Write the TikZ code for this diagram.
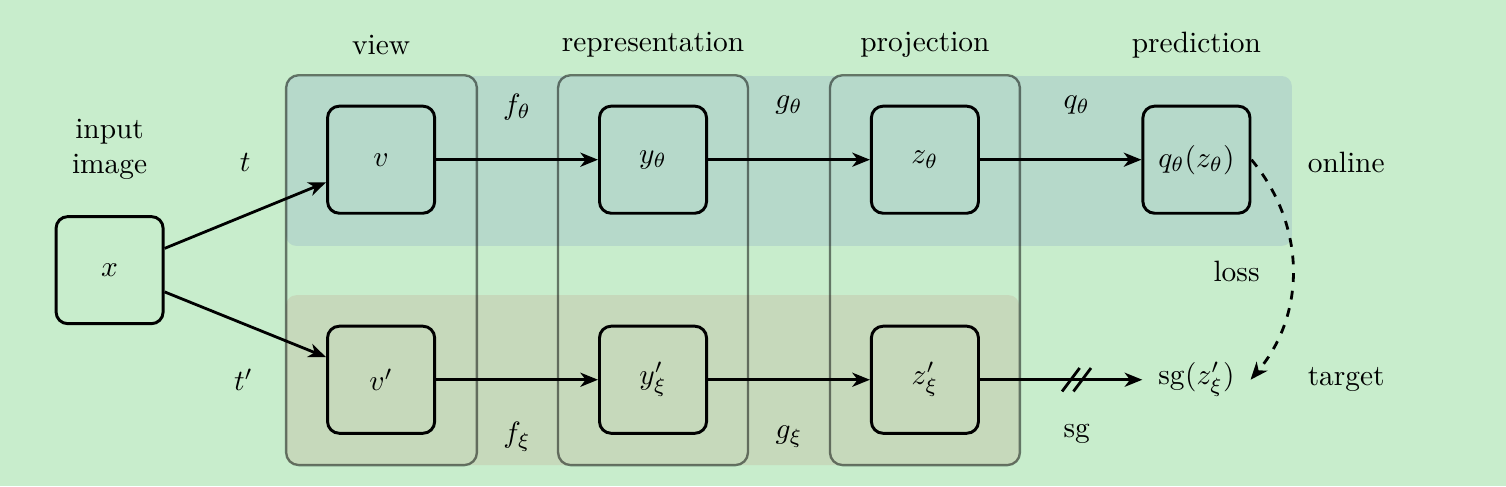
\documentclass[tikz,border=0pt]{standalone}
\usepackage{xcolor}
\usepackage{tikz}
\usepackage{amsmath}
\usetikzlibrary{arrows.meta,calc}

\definecolor{bgcolor}{RGB}{200,237,204}
\definecolor{onlinecolor}{RGB}{182,217,202}
\definecolor{targetcolor}{RGB}{198,217,187}

\begin{document}
\begin{tikzpicture}
    [block/.style={draw,line width=1pt,rounded corners=0.14cm,minimum width=1.28cm,minimum height=1.28cm},
    ghost/.style={minimum width=1.28cm,minimum height=1.28cm},
    arrow/.style={-{Stealth[length=6pt,width=4.8pt,inset=1.8pt]},line width=0.95pt},
    column/.style={draw=black,draw opacity=0.5,thick,rounded corners=0.15cm},
    band/.style={rounded corners=0.12cm}]

%background and page size
\fill[bgcolor] (0,0) rectangle (18,5.809);
\useasboundingbox (0,0) rectangle (18,5.809);

%online and target bands
\fill[band,onlinecolor] (3.42,2.87) rectangle (15.44,4.90);
\fill[band,targetcolor] (3.42,0.25) rectangle (12.18,2.28);

%columns
\draw[column] (3.42,0.25) rectangle (5.70,4.91);
\draw[column] (6.67,0.25) rectangle (8.94,4.91);
\draw[column] (9.92,0.25) rectangle (12.19,4.91);

%column titles
\node (viewlabel) at (4.555,5.27) {view};
\node (replabel) at (7.805,5.27) {representation};
\node (projlabel) at (11.055,5.27) {projection};
\node (predlabel) at (14.30,5.27) {prediction};

%blocks
\node[block] (x) at (1.31,2.58) {$x$};
\node[block] (v) at (4.555,3.90) {$v$};
\node[block] (vt) at (4.555,1.27) {$v'$};
\node[block] (y) at (7.805,3.90) {$y_\theta$};
\node[block] (yt) at (7.805,1.27) {$y'_\xi$};
\node[block] (z) at (11.055,3.90) {$z_\theta$};
\node[block] (zt) at (11.055,1.27) {$z'_\xi$};
\node[block] (q) at (14.30,3.90) {$q_\theta(z_\theta)$};
\node[ghost] (sg) at (14.30,1.27) {$\mathrm{sg}(z'_\xi)$};

%labels
\node[align=center] (input) at (1.31,4.02) {input\\image};
\node (tlabel) at (2.93,3.87) {$t$};
\node (ttlabel) at (2.91,1.27) {$t'$};
\node (flabel) at (6.18,4.53) {$f_\theta$};
\node (ftlabel) at (6.18,0.59) {$f_\xi$};
\node (glabel) at (9.43,4.55) {$g_\theta$};
\node (gtlabel) at (9.43,0.59) {$g_\xi$};
\node (qlabel) at (12.87,4.55) {$q_\theta$};
\node (sglabel) at (12.87,0.62) {sg};
\node (online) at (16.09,3.87) {online};
\node (target) at (16.09,1.27) {target};
\node (loss) at (14.78,2.56) {loss};

%connectors
\draw[arrow] ([yshift=0.26cm]x.east) -- ([yshift=-0.27cm]v.west);
\draw[arrow] ([yshift=-0.26cm]x.east) -- ([yshift=0.27cm]vt.west);
\draw[arrow] (v) -- (y);
\draw[arrow] (y) -- (z);
\draw[arrow] (z) -- (q);
\draw[arrow] (vt) -- (yt);
\draw[arrow] (yt) -- (zt);
\draw[arrow] (zt) -- (sg);
\draw[arrow,dashed] (q.east) to[bend left=40] (sg.east);

%stop gradient marks
\path (zt.east) -- (sg.west) coordinate[pos=0.56] (cut1) coordinate[pos=0.63] (cut2);
\draw[line width=0.95pt] ([shift={(-0.105,-0.14)}]cut1) -- ([shift={(0.105,0.14)}]cut1);
\draw[line width=0.95pt] ([shift={(-0.105,-0.14)}]cut2) -- ([shift={(0.105,0.14)}]cut2);

\end{tikzpicture}
\end{document}
